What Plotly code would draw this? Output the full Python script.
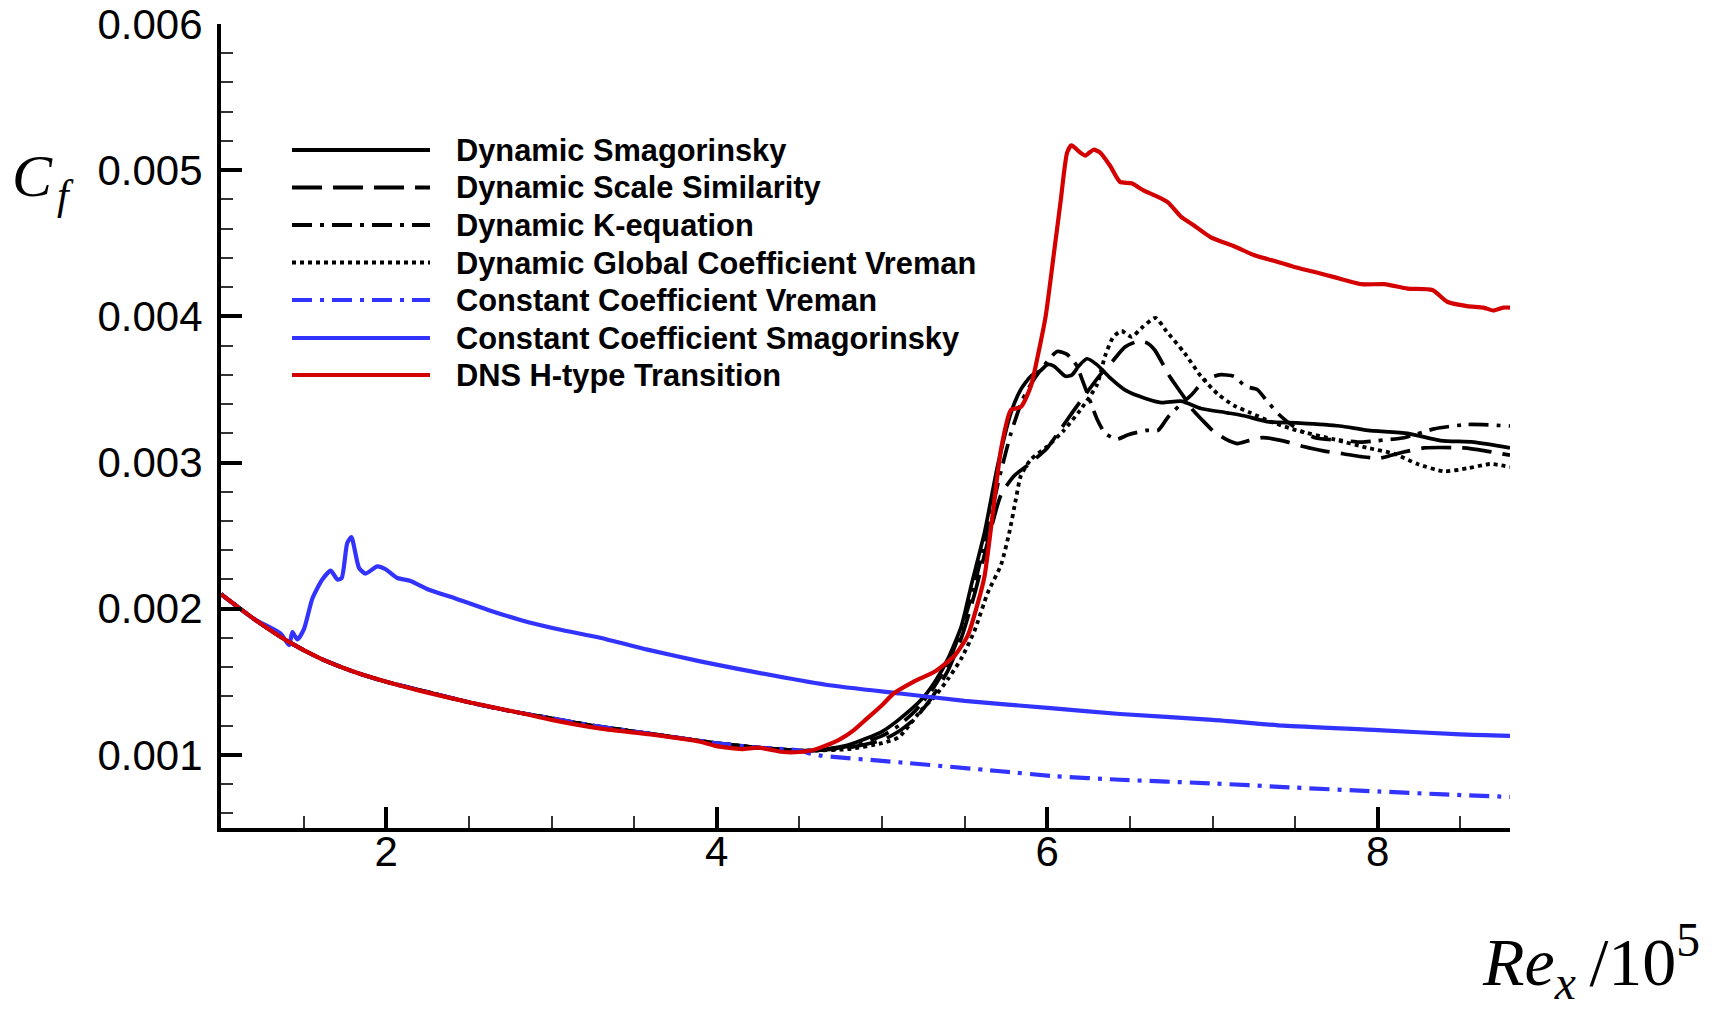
import plotly.graph_objects as go

# ---------------- data ----------------
# shared laminar part
lam_x = [1.0, 1.2, 1.4, 1.6, 1.8, 2.0, 2.25, 2.5, 2.75, 3.0, 3.25, 3.5, 3.75, 4.0, 4.25, 4.5]
lam_y = [0.00210, 0.00193, 0.00178, 0.00166, 0.00157, 0.00150, 0.00143, 0.00136, 0.00130,
         0.00125, 0.00120, 0.00116, 0.00112, 0.00108, 0.00105, 0.00103]

dsmag_x = lam_x + [4.6, 4.8, 5.0, 5.1, 5.24, 5.32, 5.4, 5.48, 5.54, 5.62, 5.70, 5.78, 5.84, 5.90,
                   5.96, 6.0, 6.04, 6.11, 6.15, 6.19, 6.24, 6.30, 6.38, 6.48, 6.59, 6.69, 6.81,
                   6.93, 7.09, 7.19, 7.33, 7.53, 7.77, 7.94, 8.18, 8.38, 8.58, 8.8]
dsmag_y = lam_y + [0.00103, 0.00107, 0.00116, 0.00124, 0.00138, 0.00150, 0.00166, 0.00188,
                   0.00216, 0.00252, 0.00298, 0.00334, 0.00350, 0.00359, 0.00363, 0.00367,
                   0.00366, 0.00359, 0.00360, 0.00366, 0.00371, 0.00367, 0.00358, 0.00349,
                   0.00344, 0.00341, 0.00342, 0.00337, 0.00334, 0.00332, 0.00328, 0.00327,
                   0.00325, 0.00322, 0.00320, 0.00315, 0.00314, 0.00310]

dss_x = lam_x + [4.6, 4.8, 5.0, 5.1, 5.2, 5.3, 5.4, 5.48, 5.56, 5.64, 5.72, 5.8, 5.88, 6.0, 6.07,
                 6.15, 6.24, 6.32, 6.40, 6.47, 6.55, 6.60, 6.65, 6.74, 6.82, 6.88, 6.93, 7.0,
                 7.08, 7.15, 7.22, 7.30, 7.42, 7.55, 7.67, 7.79, 7.9, 8.01, 8.15, 8.28, 8.52,
                 8.65, 8.8]
dss_y = lam_y + [0.00103, 0.00105, 0.00110, 0.00116, 0.00125, 0.00139, 0.00158, 0.00180,
                 0.00210, 0.00246, 0.00278, 0.00291, 0.00298, 0.00310, 0.00321, 0.00334,
                 0.00348, 0.00360, 0.00370, 0.00379, 0.00383, 0.00382, 0.00377, 0.00359,
                 0.00346, 0.00336, 0.00330, 0.00322, 0.00316, 0.00313, 0.00315, 0.00317,
                 0.00315, 0.00311, 0.00308, 0.00306, 0.00304, 0.00303, 0.00307, 0.00310,
                 0.00310, 0.00308, 0.00305]

dk_x = lam_x + [4.6, 4.8, 5.0, 5.1, 5.2, 5.3, 5.4, 5.48, 5.55, 5.62, 5.7, 5.78, 5.85, 5.92, 6.0,
                6.06, 6.12, 6.18, 6.21, 6.25, 6.30, 6.35, 6.42, 6.49, 6.6, 6.67, 6.73, 6.8,
                6.87, 6.95, 7.04, 7.13, 7.2, 7.27, 7.33, 7.41, 7.5, 7.62, 7.8, 7.9, 8.0, 8.16,
                8.34, 8.54, 8.8]
dk_y = lam_y + [0.00103, 0.00106, 0.00113, 0.00120, 0.00130, 0.00144, 0.00163, 0.00186,
                0.00212, 0.00245, 0.00285, 0.00320, 0.00343, 0.00357, 0.00369, 0.00376,
                0.00374, 0.00366, 0.00357, 0.00345, 0.00330, 0.00320, 0.00316, 0.00319,
                0.00322, 0.00322, 0.00331, 0.00339, 0.00346, 0.00356, 0.00360, 0.00359,
                0.00352, 0.00350, 0.00342, 0.00332, 0.00324, 0.00317, 0.00315, 0.00314,
                0.00315, 0.00317, 0.00323, 0.00326, 0.00325]

dgv_x = lam_x + [4.6, 4.8, 5.0, 5.1, 5.24, 5.32, 5.4, 5.48, 5.56, 5.64, 5.72, 5.77, 5.81, 5.84,
                 5.90, 6.0, 6.1, 6.2, 6.3, 6.35, 6.4, 6.45, 6.51, 6.58, 6.655, 6.72, 6.83, 6.93,
                 7.03, 7.13, 7.23, 7.35, 7.51, 7.73, 7.94, 8.1, 8.24, 8.4, 8.54, 8.68, 8.8]
dgv_y = lam_y + [0.00103, 0.00104, 0.00108, 0.00112, 0.00131, 0.00140, 0.00152, 0.00166,
                 0.00185, 0.00211, 0.00230, 0.00252, 0.00275, 0.00291, 0.00302, 0.00311,
                 0.00322, 0.00336, 0.00353, 0.00373, 0.00386, 0.00390, 0.00386, 0.00393,
                 0.00399, 0.00390, 0.00375, 0.00359, 0.00347, 0.00339, 0.00334, 0.00328,
                 0.00322, 0.00316, 0.00310, 0.00306, 0.00299, 0.00294, 0.00296, 0.00299,
                 0.00297]

ccv_x = lam_x + [4.6, 5.1, 5.7, 6.04, 6.44, 7.0, 7.43, 8.0, 8.4, 8.8]
ccv_y = lam_y + [0.00100, 0.00095, 0.00089, 0.000855, 0.00083, 0.000805, 0.00078, 0.00075,
                 0.00073, 0.000713]

ccs_x = [1.0, 1.2, 1.361, 1.412, 1.432, 1.462, 1.502, 1.553, 1.613, 1.664, 1.704, 1.730, 1.764,
         1.789, 1.835, 1.875, 1.946, 1.996, 2.067, 2.147, 2.258, 2.419, 2.621, 2.822, 3.04,
         3.3, 3.58, 3.9, 4.12, 4.66, 5.11, 5.5, 6.02, 6.44, 7.0, 7.43, 8.0, 8.5, 8.8]
ccs_y = [0.00210, 0.00193, 0.00183, 0.00175, 0.00184, 0.00179, 0.00186, 0.00207, 0.00220,
         0.00226, 0.00220, 0.00221, 0.00245, 0.00249, 0.00228, 0.00224, 0.00229, 0.00227,
         0.00221, 0.00219, 0.00213, 0.00207, 0.00199, 0.00192, 0.00186, 0.00180, 0.00172,
         0.00164, 0.00159, 0.00148, 0.00142, 0.00137, 0.00132, 0.00128, 0.00124, 0.00120,
         0.00117, 0.00114, 0.00113]

dns_x = [1.0, 1.2, 1.4, 1.6, 1.8, 2.0, 2.2, 2.5, 2.8, 3.0, 3.3, 3.6, 3.9, 4.0, 4.15, 4.25, 4.4,
         4.5, 4.57, 4.65, 4.75, 4.83, 4.91, 5.0, 5.07, 5.19, 5.32, 5.44, 5.52, 5.58, 5.62, 5.67,
         5.72, 5.78, 5.84, 5.90, 5.95, 5.99, 6.04, 6.08, 6.12, 6.146, 6.20, 6.23, 6.28, 6.32,
         6.38, 6.44, 6.51, 6.585, 6.645, 6.73, 6.81, 6.89, 6.99, 7.13, 7.25, 7.37, 7.49, 7.63,
         7.73, 7.9, 8.04, 8.18, 8.33, 8.42, 8.54, 8.64, 8.70, 8.76, 8.8]
dns_y = [0.00210, 0.00193, 0.00178, 0.00166, 0.00157, 0.00150, 0.00144, 0.00136, 0.00129,
         0.00124, 0.00118, 0.00114, 0.00109, 0.00106, 0.00104, 0.00105, 0.00102, 0.00102,
         0.00103, 0.00106, 0.00111, 0.00117, 0.00125, 0.00134, 0.00142, 0.00150, 0.00157,
         0.00168, 0.00182, 0.00204, 0.00222, 0.00265, 0.00309, 0.00336, 0.00338, 0.00352,
         0.00377, 0.00400, 0.00443, 0.00478, 0.00512, 0.00517, 0.00512, 0.00510, 0.00514,
         0.00512, 0.00503, 0.00492, 0.00491, 0.00486, 0.00483, 0.00478, 0.00468, 0.00462,
         0.00454, 0.00448, 0.00442, 0.00438, 0.00434, 0.00430, 0.00427, 0.00422, 0.00422,
         0.00419, 0.00418, 0.00410, 0.00407, 0.00406, 0.00404, 0.00406, 0.00406]

names = ["Dynamic Smagorinsky", "Dynamic Scale Similarity", "Dynamic K-equation",
         "Dynamic Global Coefficient Vreman", "Constant Coefficient Vreman",
         "Constant Coefficient Smagorinsky", "DNS H-type Transition"]

x_ticks = [2, 4, 6, 8]
y_ticks = [0.001, 0.002, 0.003, 0.004, 0.005, 0.006]

# ---------------- styles ----------------
BLACK = "#000000"
BLUE = "#3333ff"
RED = "#d40000"
DASH = "30px,11px"
DASHDOT = "20px,8px,4px,8px"
DOT = "4px,4px"

series = [
    (dsmag_x, dsmag_y, BLACK, "solid", 3.7),
    (dss_x, dss_y, BLACK, DASH, 3.7),
    (dk_x, dk_y, BLACK, DASHDOT, 3.7),
    (dgv_x, dgv_y, BLACK, DOT, 3.8),
    (ccv_x, ccv_y, BLUE, DASHDOT, 4.2),
    (ccs_x, ccs_y, BLUE, "solid", 4.2),
    (dns_x, dns_y, RED, "solid", 4.2),
]

W, H = 1715, 1009
L, R, T, B = 221, 1510, 24, 828

fig = go.Figure()
for (xs, ys, col, dash, w), nm in zip(series, names):
    fig.add_trace(go.Scatter(x=xs, y=ys, mode="lines", name=nm,
                             line=dict(color=col, dash=dash, width=w, shape="spline",
                                       smoothing=0.6),
                             showlegend=False))

def px(X):
    return (X - L) / (R - L)

def py(Y):
    return (B - Y) / (B - T)

# manual legend
leg_y = [150, 187.5, 225, 262.5, 300, 338, 375]
shapes = []
annotations = []
for (xs, ys, col, dash, w), nm, yy in zip(series, names, leg_y):
    shapes.append(dict(type="line", xref="paper", yref="paper",
                       x0=px(292), x1=px(430), y0=py(yy), y1=py(yy),
                       line=dict(color=col, dash=dash, width=4)))
    annotations.append(dict(xref="paper", yref="paper", x=px(454), y=py(yy + 0.5),
                            xanchor="left", yanchor="middle", showarrow=False,
                            text="<b>" + nm + "</b>",
                            font=dict(family="Liberation Sans, Arial, sans-serif",
                                      size=30.8, color="black")))

# axis titles
annotations.append(dict(xref="paper", yref="paper", x=px(10), y=py(180),
                        xanchor="left", yanchor="middle", showarrow=False,
                        text="<i>C</i>\u200a<sub><i>f</i></sub>",
                        font=dict(family="Liberation Serif, serif", size=60, color="black")))
annotations.append(dict(xref="paper", yref="paper", x=px(1702), y=py(961),
                        xanchor="right", yanchor="middle", showarrow=False,
                        text="<i>Re</i><sub><i>x</i></sub>\u2009/10<sup>5</sup>",
                        font=dict(family="Liberation Serif, serif", size=68, color="black")))

tickfont = dict(family="Liberation Sans, Arial, sans-serif", size=42, color="black")

fig.update_layout(
    width=W, height=H,
    margin=dict(l=L, r=W - R, t=T, b=H - B, pad=0, autoexpand=False),
    paper_bgcolor="white", plot_bgcolor="white",
    shapes=shapes, annotations=annotations,
    showlegend=False,
    xaxis=dict(range=[1.0, 8.8], tickmode="array", tickvals=x_ticks,
               ticktext=[str(v) for v in x_ticks], automargin=False,
               showgrid=False, zeroline=False, showline=True, linecolor="black", linewidth=4,
               ticks="inside", ticklen=21, tickwidth=4, tickcolor="black",
               tickfont=tickfont, ticklabelstandoff=-16,
               minor=dict(dtick=0.5, tick0=0, ticks="inside", ticklen=12, tickwidth=1.6,
                          tickcolor="#333333", showgrid=False)),
    yaxis=dict(range=[0.0005, 0.006], tickmode="array", tickvals=y_ticks,
               ticktext=["%.3f" % v for v in y_ticks], automargin=False,
               showgrid=False, zeroline=False, showline=True, linecolor="black", linewidth=4,
               ticks="inside", ticklen=21, tickwidth=4, tickcolor="black",
               tickfont=tickfont, ticklabelstandoff=6,
               minor=dict(dtick=0.0002, tick0=0, ticks="inside", ticklen=12, tickwidth=1.6,
                          tickcolor="#333333", showgrid=False)),
)

fig.write_html("out.html")
